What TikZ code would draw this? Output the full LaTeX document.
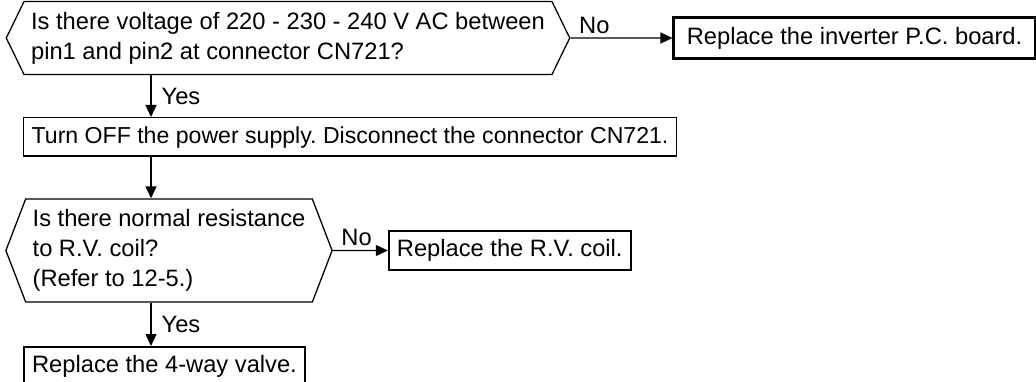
\documentclass[tikz,border=0pt]{standalone}
\usepackage{fontspec}
\setmainfont{Liberation Sans}
\usetikzlibrary{arrows.meta, positioning, shapes.symbols}
\frenchspacing

\begin{document}
\begin{tikzpicture}[x=1pt, y=-1pt,
  font=\fontsize{23.7}{30}\selectfont,
  decision/.style={draw, signal, signal to=west and east, align=left,
                   line width=1.3pt, inner xsep=7pt, inner ysep=10.5pt},
  action/.style={draw, line width=2.2pt, inner xsep=8pt, inner ysep=8pt,
                 text height=17.5pt, text depth=5pt},
  arr/.style={-{Triangle[length=12pt, width=11pt]}, line width=1.3pt},
  lbl/.style={inner sep=4pt}
]
\useasboundingbox (0,0) rectangle (1036,382);
\coordinate (col) at (151,0);

\node[decision, signal pointer angle=128] (q1) at (288,38)
  {Is there voltage of 220 - 230 - 240 V AC between\\pin1 and pin2 at connector CN721?};
\node[action, minimum width=362pt, minimum height=41pt, right=102pt of q1] (fix1)
  {Replace the inverter P.C. board.};
\node[action, line width=1.3pt, anchor=north west, font=\fontsize{23.1}{30}\selectfont] (off) at (23,117)
  {Turn OFF the power supply. Disconnect the connector CN721.};
\node[decision, signal pointer angle=138] (q2) at (169,250.5)
  {Is there normal resistance\\to R.V. coil?\\(Refer to 12-5.)};
\node[action, right=55pt of q2] (fix2) {Replace the R.V. coil.};
\node[action, anchor=north west] (valve) at (23,346) {Replace the 4-way valve.};

\draw[arr] (q1) -- node[lbl, above right, pos=0, xshift=4pt] {No} (fix1);
\draw[arr] (q1.south -| col) -- node[lbl, right, xshift=6pt] {Yes} (off.north -| col);
\draw[arr] (off.south -| col) -- (q2.north -| col);
\draw[arr] (q2) -- node[lbl, above right, pos=0, xshift=4pt] {No} (fix2);
\draw[arr] (q2.south -| col) -- node[lbl, right, xshift=6pt] {Yes} (valve.north -| col);
\end{tikzpicture}
\end{document}
